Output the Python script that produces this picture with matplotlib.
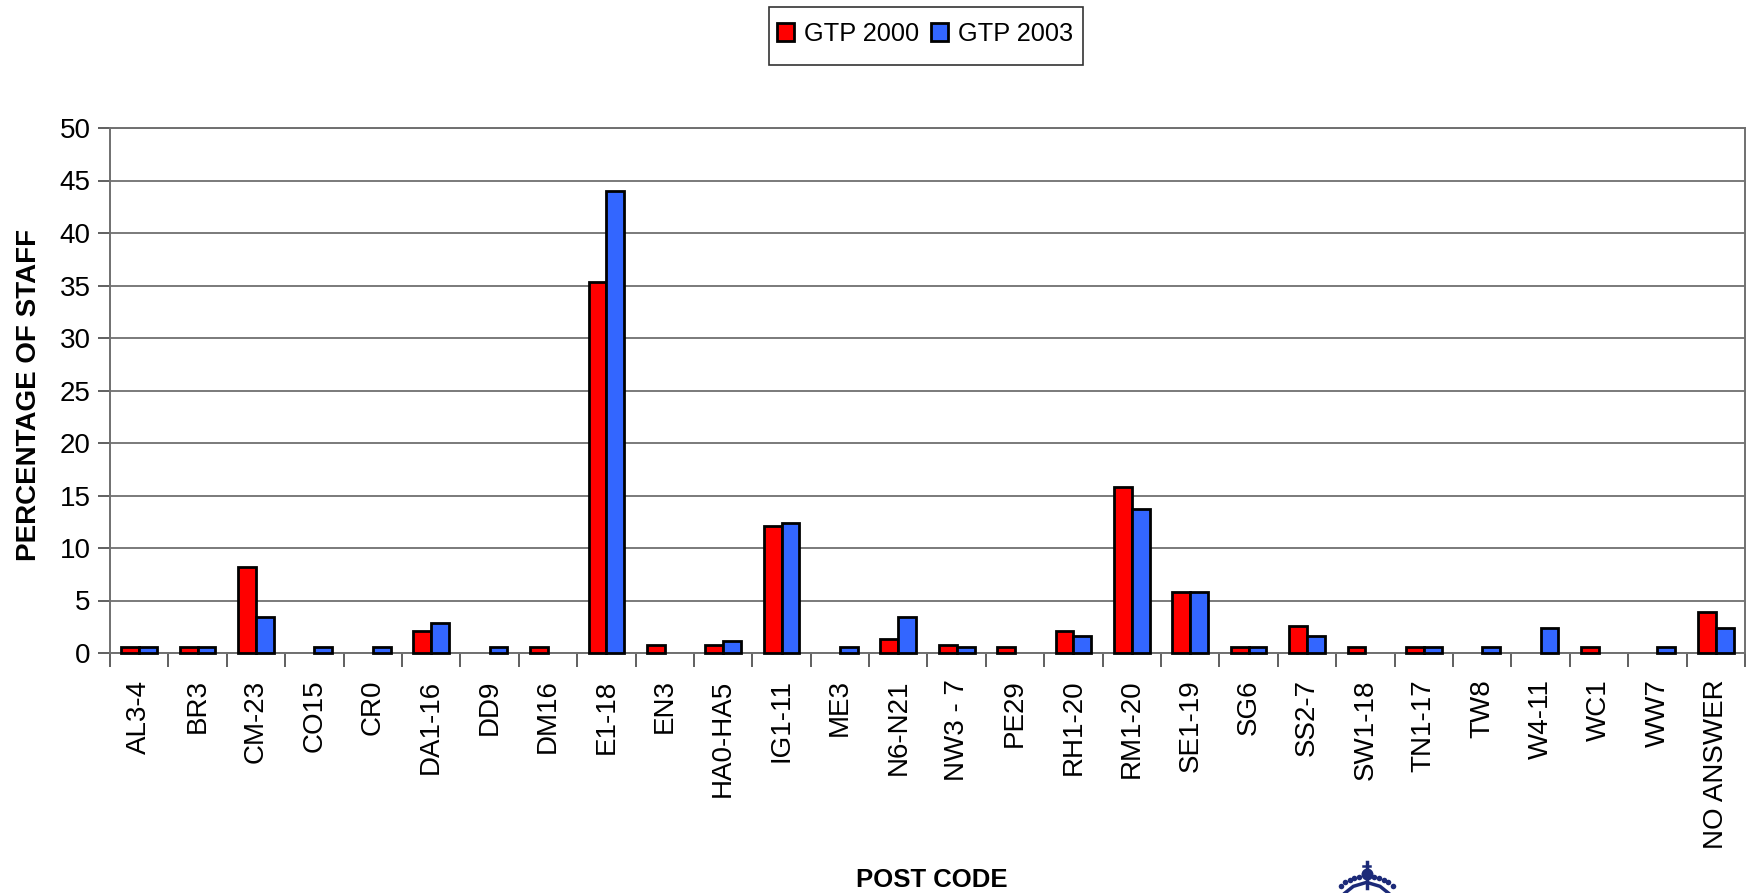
import matplotlib
matplotlib.use("Agg")
import matplotlib.pyplot as plt
from matplotlib.patches import Rectangle
import numpy as np

codes = ["AL3-4", "BR3", "CM-23", "CO15", "CR0", "DA1-16", "DD9", "DM16", "E1-18", "EN3",
         "HA0-HA5", "IG1-11", "ME3", "N6-N21", "NW3 - 7", "PE29", "RH1-20", "RM1-20", "SE1-19",
         "SG6", "SS2-7", "SW1-18", "TN1-17", "TW8", "W4-11", "WC1", "WW7", "NO ANSWER"]
gtp2000 = [0.6, 0.6, 8.2, 0, 0, 2.1, 0, 0.6, 35.3, 0.8,
           0.8, 12.1, 0, 1.3, 0.8, 0.6, 2.1, 15.8, 5.8,
           0.6, 2.6, 0.6, 0.6, 0, 0, 0.6, 0, 3.9]
gtp2003 = [0.6, 0.6, 3.4, 0.6, 0.6, 2.9, 0.6, 0, 44, 0,
           1.1, 12.4, 0.6, 3.4, 0.6, 0, 1.6, 13.7, 5.8,
           0.6, 1.6, 0, 0.6, 0.6, 2.4, 0, 0.6, 2.4]
yticks = list(range(0, 55, 5))

plt.rcParams['font.family'] = ['Liberation Sans', 'DejaVu Sans']

W, H = 1749, 893
fig = plt.figure(figsize=(W / 100, H / 100), dpi=100)
ax = fig.add_axes([110 / W, 1 - 653 / H, (1745 - 110) / W, (653 - 128) / H])

x = np.arange(len(codes))
bw = 0.305
# zero values get no bar at all, as in the original
r2000 = [(i, v) for i, v in zip(x, gtp2000) if v > 0]
r2003 = [(i, v) for i, v in zip(x, gtp2003) if v > 0]
ax.bar([i - bw / 2 for i, v in r2000], [v for i, v in r2000], bw, color="#ff0000",
       edgecolor="black", linewidth=2.0, label="GTP 2000", zorder=3, clip_on=False)
ax.bar([i + bw / 2 for i, v in r2003], [v for i, v in r2003], bw, color="#3366ff",
       edgecolor="black", linewidth=2.0, label="GTP 2003", zorder=3, clip_on=False)

ax.set_xlim(-0.5, len(codes) - 0.5)
ax.set_ylim(0, 50)
ax.set_yticks(yticks)
ax.grid(axis="y", color="#707070", linewidth=1.3, zorder=1)
ax.set_axisbelow(True)

ax.set_xticks(x)
ax.set_xticklabels(codes, rotation=90, fontsize=20)
ax.tick_params(axis="x", length=0, pad=19)
ax.set_xticks(np.arange(-0.5, len(codes)), minor=True)
ax.tick_params(axis="x", which="minor", length=10, width=1.2, color="#444444")
ax.tick_params(axis="y", labelsize=20, length=9, width=1.2, color="#444444", pad=5)

for s in ax.spines.values():
    s.set_color("#707070")
    s.set_linewidth(1.4)

fig.text(932 / W, 1 - 880 / H, "POST CODE", fontsize=18.5, fontweight="bold", ha="center", va="center")
fig.text(29 / W, 1 - 395 / H, "PERCENTAGE OF STAFF", fontsize=20, fontweight="bold",
         rotation=90, ha="center", va="center")

# legend box is taller than the legend itself, so the frame is a separate rectangle
fig.add_artist(Rectangle((769 / W, 1 - 65 / H), 314 / W, 58 / H, transform=fig.transFigure,
                         facecolor="white", edgecolor="#333333", linewidth=1.2))
leg = fig.legend(loc="center", bbox_to_anchor=(925 / W, 1 - 34 / H), ncol=2, fontsize=18.3,
                 frameon=False, handlelength=0.65, handleheight=0.72, handletextpad=0.38,
                 columnspacing=0.5, borderpad=0, borderaxespad=0)

# crown of the logo, cut off by the bottom edge of the page
navy = "#1c2a78"
logo = fig.add_axes([1300 / W, 0, 140 / W, 50 / H])
logo.set_xlim(0, 420)
logo.set_ylim(150, 0)
logo.axis("off")
logo.scatter([122, 135, 150, 163, 177, 222, 237, 252, 265, 278],
             [128, 118, 112, 106, 101, 101, 106, 112, 118, 128], s=16, color=navy, linewidths=0)
logo.scatter([200], [92], s=75, color=navy, linewidths=0)
logo.plot([200, 200], [58, 135], color=navy, linewidth=2.5)
logo.plot([190, 210], [68, 68], color=navy, linewidth=1.8)
logo.plot([135, 160, 200, 240, 265], [150, 130, 118, 130, 150], color=navy, linewidth=2.5)

fig.savefig("out.png", dpi=100)
